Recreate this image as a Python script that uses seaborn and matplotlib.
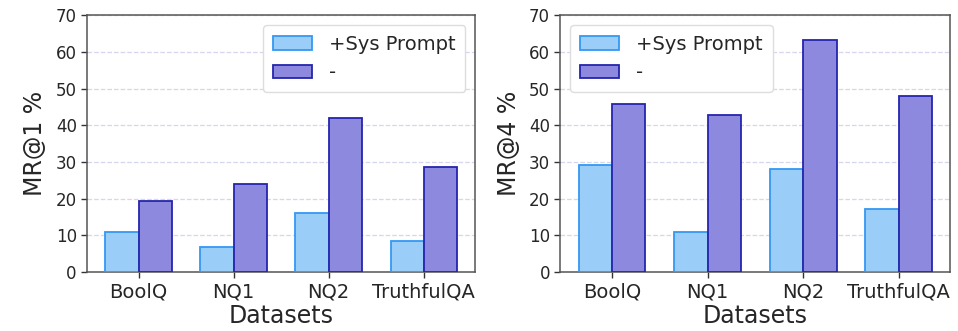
import pandas as pd
import matplotlib
matplotlib.use('Agg')
import matplotlib.pyplot as plt
import seaborn as sns

# values
datasets = ['BoolQ', 'NQ1', 'NQ2', 'TruthfulQA']
settings = ['+Sys Prompt', '-']
mr1_sys = [11.0, 6.7, 16.0, 8.5]
mr1_plain = [19.3, 24.0, 42.0, 28.7]
mr4_sys = [29.3, 11.0, 28.0, 17.2]
mr4_plain = [45.7, 42.7, 63.2, 48.0]

fill_colors = {'+Sys Prompt': '#9ACDF8', '-': '#8D89DF'}
edge_colors = {'+Sys Prompt': '#3598F2', '-': '#2525AC'}


def make_df(sys_vals, plain_vals):
    rows = []
    for d, v in zip(datasets, sys_vals):
        rows.append({'Datasets': d, 'Setting': '+Sys Prompt', 'value': v})
    for d, v in zip(datasets, plain_vals):
        rows.append({'Datasets': d, 'Setting': '-', 'value': v})
    return pd.DataFrame(rows)


sns.set_style('white')
plt.rcParams['font.family'] = ['DejaVu Sans']

fig = plt.figure(figsize=(9.58, 3.31), dpi=100)
ax1 = fig.add_axes([0.091, 0.178, 0.405, 0.776])
ax2 = fig.add_axes([0.585, 0.178, 0.407, 0.776])

panels = [(ax1, mr1_sys, mr1_plain, 'MR@1 %', 'upper right'),
          (ax2, mr4_sys, mr4_plain, 'MR@4 %', 'upper left')]

for ax, sys_vals, plain_vals, ylab, loc in panels:
    df = make_df(sys_vals, plain_vals)
    sns.barplot(data=df, x='Datasets', y='value', hue='Setting',
                hue_order=settings, palette=fill_colors, saturation=1,
                width=0.7, gap=0, linewidth=1.3, legend=False, ax=ax, zorder=3)
    for cont, s in zip(ax.containers, settings):
        for p in cont.patches:
            p.set_edgecolor(edge_colors[s])
    ax.set_ylim(0, 70)
    ax.set_xlim(-0.54, 3.54)
    ax.set_yticks(range(0, 71, 10))
    ax.yaxis.grid(True, linestyle='--', color='#D6D6EE', linewidth=0.9, zorder=0)
    ax.set_axisbelow(True)
    ax.set_xlabel('Datasets', fontsize=17, labelpad=2)
    ax.set_ylabel(ylab, fontsize=17, labelpad=6)
    ax.tick_params(axis='x', labelsize=14, length=4, width=1, color='#333333', bottom=True)
    ax.tick_params(axis='y', labelsize=12, length=4, width=1, color='#333333', left=True)
    for sp in ax.spines.values():
        sp.set_color('#555555')
        sp.set_linewidth(1.1)
    handles = [cont.patches[0] for cont in ax.containers]
    leg = ax.legend(handles, settings, loc=loc, fontsize=14, frameon=True,
                    handletextpad=0.9, borderpad=0.5, framealpha=1)
    leg.get_frame().set_edgecolor('#DDDDDD')

fig.savefig('out.png', dpi=100)
